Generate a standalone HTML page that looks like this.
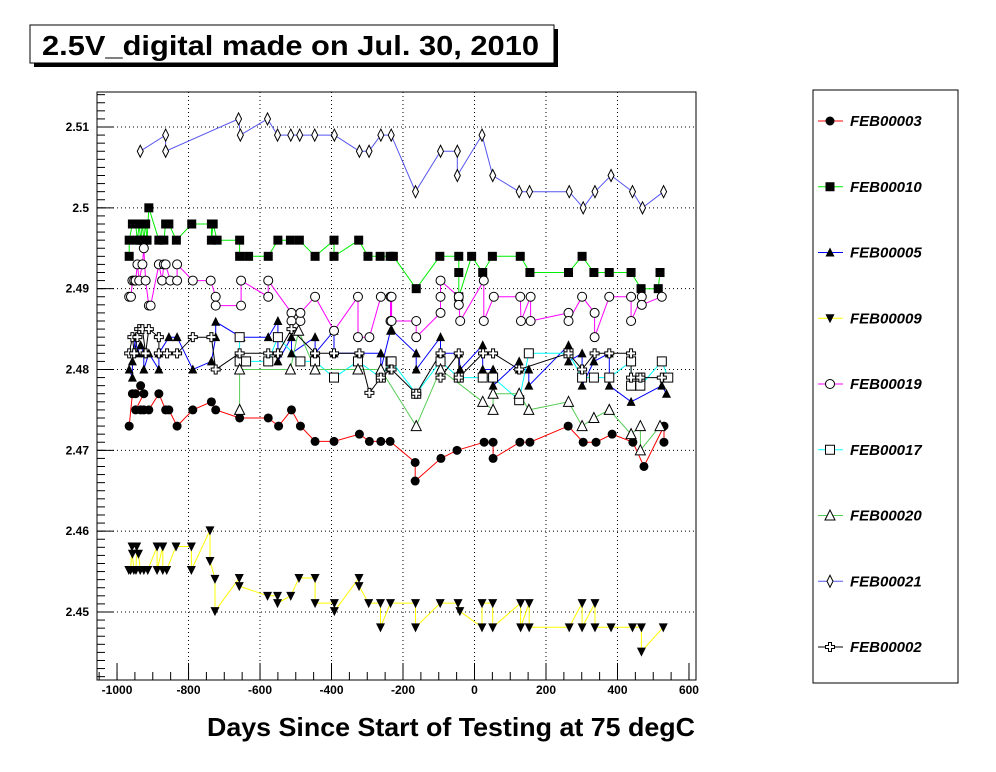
<!DOCTYPE html>
<html><head><meta charset="utf-8"><style>
body{margin:0;background:#fff;width:996px;height:772px;overflow:hidden;font-family:"Liberation Sans",sans-serif}
svg{display:block}
</style></head><body>
<svg id="c" width="996" height="772" xmlns="http://www.w3.org/2000/svg">
<rect x="34" y="29" width="524" height="38" fill="#000"/>
<rect x="30" y="25" width="524" height="38" fill="#fff" stroke="#000"/>
<text x="42" y="55" font-size="28" font-weight="bold" textLength="497" lengthAdjust="spacingAndGlyphs">2.5V_digital made on Jul. 30, 2010</text>
<rect x="813" y="90" width="145" height="593" fill="#fff" stroke="#000"/>
<text x="207" y="736" font-size="26" font-weight="bold" textLength="488" lengthAdjust="spacingAndGlyphs">Days Since Start of Testing at 75 degC</text>
<g id="grid"></g><g id="axes"></g><g id="lines"></g><g id="marks"></g><g id="legend"></g>
</svg>
<script>
const xTicks=[-1000,-800,-600,-400,-200,0,200,400,600];
const yTicks=[2.45,2.46,2.47,2.48,2.49,2.5,2.51];
const yTickLabels=["2.45","2.46","2.47","2.48","2.49","2.5","2.51"];
const seriesNames=["FEB00003","FEB00010","FEB00005","FEB00009","FEB00019","FEB00017","FEB00020","FEB00021","FEB00002"];

const d03=[-966,-957,-948,-934,-925,-948,-934,-925,-911,-883,-864,-855,-832,-788,-736,-724,-657,-577,-548,-512,-487,-446,-393,-322,-294,-262,-236,-166,-166,-94,-49,27,52,52,127,155,262,304,340,385,443,474,530,530];
const v03=[2.473,2.477,2.477,2.478,2.477,2.475,2.475,2.475,2.475,2.477,2.475,2.475,2.473,2.475,2.476,2.475,2.474,2.474,2.473,2.475,2.473,2.4711,2.4711,2.472,2.4711,2.4711,2.4711,2.4685,2.4662,2.469,2.470,2.471,2.471,2.469,2.471,2.471,2.473,2.471,2.471,2.472,2.471,2.468,2.473,2.471];

const d10=[-966,-966,-957,-948,-943,-938,-934,-929,-925,-920,-916,-911,-883,-869,-864,-855,-834,-791,-736,-736,-731,-720,-657,-657,-632,-577,-550,-515,-490,-446,-393,-393,-324,-298,-264,-236,-227,-163,-97,-44,-44,-44,-8,23,50,128,155,263,301,334,377,438,466,514,519];
const v10=[2.494,2.496,2.498,2.498,2.496,2.498,2.496,2.498,2.496,2.498,2.496,2.5,2.496,2.496,2.498,2.498,2.496,2.498,2.498,2.496,2.498,2.496,2.496,2.494,2.494,2.494,2.496,2.496,2.496,2.494,2.496,2.494,2.496,2.494,2.494,2.494,2.494,2.490,2.494,2.494,2.492,2.489,2.494,2.492,2.494,2.494,2.492,2.492,2.494,2.492,2.492,2.492,2.490,2.490,2.492];

const d05=[-966,-957,-957,-948,-943,-934,-925,-925,-911,-883,-883,-855,-832,-788,-736,-724,-724,-653,-577,-550,-550,-550,-512,-512,-446,-446,-393,-393,-322,-262,-262,-235,-232,-163,-163,-95,-95,-44,-40,23,23,52,52,125,125,152,152,263,263,301,301,334,377,377,438,524,537];
const v05=[2.48,2.479,2.481,2.484,2.482,2.483,2.482,2.48,2.482,2.48,2.482,2.484,2.484,2.48,2.481,2.484,2.4859,2.484,2.484,2.486,2.482,2.481,2.484,2.482,2.484,2.482,2.4848,2.482,2.482,2.482,2.48,2.4848,2.4849,2.482,2.48,2.484,2.482,2.482,2.48,2.483,2.48,2.48,2.478,2.481,2.48,2.48,2.478,2.483,2.481,2.482,2.478,2.481,2.482,2.478,2.476,2.478,2.477];

const d09=[-967,-962,-958,-957,-953,-947,-945,-940,-935,-925,-914,-888,-888,-872,-872,-861,-835,-792,-792,-740,-740,-726,-726,-658,-658,-579,-551,-551,-514,-491,-446,-446,-392,-392,-323,-323,-296,-263,-263,-235,-165,-165,-96,-46,-41,21,21,51,51,129,129,153,153,265,301,301,337,337,382,442,467,467,528];
const v09=[2.4552,2.4552,2.4581,2.4572,2.4552,2.4552,2.4581,2.4572,2.4552,2.4552,2.4552,2.4581,2.4552,2.4581,2.4552,2.4552,2.4581,2.4581,2.4552,2.4601,2.4563,2.4541,2.4501,2.4542,2.4532,2.452,2.452,2.4511,2.452,2.4542,2.4542,2.4511,2.4511,2.4501,2.4542,2.4532,2.4511,2.4511,2.4481,2.4511,2.4511,2.4481,2.4511,2.4511,2.4501,2.4481,2.4511,2.4511,2.4481,2.4511,2.4481,2.4511,2.4481,2.4481,2.4511,2.4481,2.4511,2.4481,2.4481,2.4481,2.4481,2.4451,2.4481];

const d19=[-966,-961,-957,-952,-948,-943,-938,-929,-925,-920,-911,-906,-883,-874,-869,-864,-851,-832,-832,-788,-738,-724,-724,-653,-653,-577,-577,-512,-512,-487,-487,-446,-393,-326,-326,-294,-262,-235,-235,-232,-232,-163,-163,-95,-95,-95,-44,-44,-40,26,26,54,128,130,157,157,263,263,301,336,336,377,438,438,468,468,524];
const v19=[2.489,2.489,2.491,2.491,2.491,2.493,2.491,2.493,2.495,2.491,2.4879,2.4879,2.493,2.491,2.493,2.493,2.491,2.491,2.493,2.491,2.491,2.489,2.4879,2.4879,2.491,2.489,2.491,2.487,2.486,2.486,2.487,2.489,2.4848,2.489,2.484,2.484,2.489,2.489,2.486,2.489,2.486,2.486,2.484,2.487,2.489,2.491,2.489,2.488,2.486,2.491,2.486,2.489,2.489,2.486,2.489,2.486,2.487,2.486,2.489,2.487,2.484,2.489,2.489,2.486,2.489,2.488,2.489];

const d17=[-657,-657,-639,-577,-550,-487,-446,-393,-326,-262,-235,-232,-163,-95,-44,23,52,125,152,263,301,334,377,438,438,464,464,524,542];
const v17=[2.484,2.481,2.481,2.481,2.484,2.481,2.481,2.479,2.481,2.479,2.481,2.481,2.477,2.481,2.479,2.479,2.479,2.4762,2.482,2.482,2.479,2.479,2.479,2.481,2.478,2.479,2.478,2.481,2.479];

const d20=[-657,-657,-515,-492,-446,-326,-262,-163,-95,23,52,52,125,152,263,301,334,377,438,464,464,519];
const v20=[2.475,2.48,2.48,2.4848,2.48,2.48,2.48,2.473,2.48,2.476,2.475,2.477,2.477,2.475,2.476,2.473,2.474,2.475,2.472,2.473,2.470,2.473];

const d21=[-935,-864,-864,-660,-655,-579,-551,-514,-489,-447,-392,-322,-295,-262,-233,-165,-95,-48,-48,21,51,125,154,265,304,337,382,442,470,529];
const v21=[2.507,2.509,2.507,2.511,2.509,2.511,2.509,2.509,2.509,2.509,2.509,2.507,2.507,2.509,2.509,2.502,2.507,2.507,2.504,2.509,2.504,2.502,2.502,2.502,2.500,2.502,2.504,2.502,2.500,2.502];

const d02=[-966,-957,-952,-943,-938,-929,-920,-911,-883,-883,-860,-832,-788,-736,-724,-657,-577,-550,-512,-446,-393,-322,-294,-262,-235,-232,-163,-95,-95,-44,-44,24,52,125,263,301,336,377,438,438,464,524];
const v02=[2.482,2.484,2.482,2.484,2.485,2.485,2.482,2.485,2.484,2.482,2.482,2.482,2.484,2.484,2.48,2.482,2.482,2.482,2.485,2.482,2.482,2.482,2.4771,2.479,2.48,2.48,2.477,2.482,2.479,2.482,2.479,2.482,2.482,2.48,2.482,2.48,2.482,2.482,2.482,2.479,2.479,2.479];

const NS="http://www.w3.org/2000/svg";
const L=97,R=696,T=92,B=680;
function X(d){return 474.5+d*0.35747;}
function Y(v){return 127+(2.51-v)*8083;}
function mk(tag,attrs,parent){const e=document.createElementNS(NS,tag);for(const k in attrs)e.setAttribute(k,attrs[k]);parent.appendChild(e);return e;}
const grid=document.getElementById('grid'),axes=document.getElementById('axes'),lines=document.getElementById('lines'),marks=document.getElementById('marks'),legend=document.getElementById('legend');

mk('rect',{x:L,y:T,width:R-L,height:B-T,fill:'none',stroke:'#000'},axes);
xTicks.forEach(t=>{const x=X(t);
 if(t>-1000&&t<600){const g=mk('line',{x1:x,x2:x,y1:T,y2:B,stroke:'#000','stroke-dasharray':'1,3'},grid);
 
 }
 mk('line',{x1:x,x2:x,y1:B,y2:B-17,stroke:'#000'},axes);
 const tx=mk('text',{x:x,y:B+14,'font-size':12,'font-weight':'bold','text-anchor':'middle'},axes);
 tx.textContent=t;
 
 
});
for(let t=-1050;t<=640;t+=50){const x=X(t);if(x>L&&x<R)mk('line',{x1:x,x2:x,y1:B,y2:B-8,stroke:'#000'},axes);}
yTicks.forEach((t,i)=>{const y=Y(t);
 const g=mk('line',{x1:L,x2:R,y1:y,y2:y,stroke:'#000','stroke-dasharray':'1,3'},grid);
 
 
 mk('line',{x1:L,x2:L+17,y1:y,y2:y,stroke:'#000'},axes);
 const tx=mk('text',{x:L-8,y:y+4,'font-size':12,'font-weight':'bold','text-anchor':'end'},axes);
 tx.textContent=yTickLabels[i];
 
 
});
for(let v=2.441;v<=2.5145;v+=0.001){const y=Y(v);if(y>T&&y<B)mk('line',{x1:L,x2:L+8,y1:y,y2:y,stroke:'#000'},axes);}

function marker(kind,x,y,s,parent){
 s=s||1;
 if(kind==='fcirc')return mk('circle',{cx:x,cy:y,r:4.5*s,fill:'#000'},parent);
 if(kind==='fsq')return mk('rect',{x:x-4.5*s,y:y-4.5*s,width:9*s,height:9*s,fill:'#000'},parent);
 if(kind==='ftri')return mk('polygon',{points:`${x},${y-5*s} ${x-4.5*s},${y+4*s} ${x+4.5*s},${y+4*s}`,fill:'#000'},parent);
 if(kind==='fdn')return mk('polygon',{points:`${x},${y+5*s} ${x-4.5*s},${y-4*s} ${x+4.5*s},${y-4*s}`,fill:'#000'},parent);
 if(kind==='ocirc')return mk('circle',{cx:x,cy:y,r:4.5*s,fill:'#fff',stroke:'#000'},parent);
 if(kind==='osq')return mk('rect',{x:x-4.5*s,y:y-4.5*s,width:9*s,height:9*s,fill:'#fff',stroke:'#000'},parent);
 if(kind==='otri')return mk('polygon',{points:`${x},${y-5.5*s} ${x-5*s},${y+4.5*s} ${x+5*s},${y+4.5*s}`,fill:'#fff',stroke:'#000'},parent);
 if(kind==='odia')return mk('polygon',{points:`${x},${y-6*s} ${x+3*s},${y} ${x},${y+6*s} ${x-3*s},${y}`,fill:'#fff',stroke:'#000'},parent);
 if(kind==='ocross'){const a=1.5*s,b=4.5*s;return mk('polygon',{points:`${x-a},${y-b} ${x+a},${y-b} ${x+a},${y-a} ${x+b},${y-a} ${x+b},${y+a} ${x+a},${y+a} ${x+a},${y+b} ${x-a},${y+b} ${x-a},${y+a} ${x-b},${y+a} ${x-b},${y-a} ${x-a},${y-a}`,fill:'#fff',stroke:'#000'},parent);}
}
const S=[
 [d03,v03,'#ff0000','fcirc'],[d10,v10,'#00ee00','fsq'],[d05,v05,'#0000ff','ftri'],[d09,v09,'#ffff00','fdn'],
 [d19,v19,'#ff00ff','ocirc'],[d17,v17,'#00ffff','osq'],[d20,v20,'#55cc55','otri'],[d21,v21,'#5555ee','odia'],[d02,v02,'#000000','ocross']];
S.forEach((s,i)=>{
 const pts=s[0].map((d,j)=>X(d).toFixed(1)+','+Y(s[1][j]).toFixed(1)).join(' ');
 const pl=mk('polyline',{points:pts,fill:'none',stroke:s[2],'stroke-width':1},lines);
 
 
});
S.forEach((s,i)=>{
 s[0].forEach((d,j)=>{const m=marker(s[3],X(d),Y(s[1][j]),1,marks);
  
  });
 const ly=121+i*65.75;
 mk('line',{x1:818,x2:843,y1:ly,y2:ly,stroke:s[2]},legend);
 marker(s[3],830,ly,1,legend);
 const t=mk('text',{x:850,y:ly+5,'font-size':15,'font-weight':'bold','font-style':'italic'},legend);
 t.textContent=seriesNames[i];
 
 
});
</script>
</body></html>
